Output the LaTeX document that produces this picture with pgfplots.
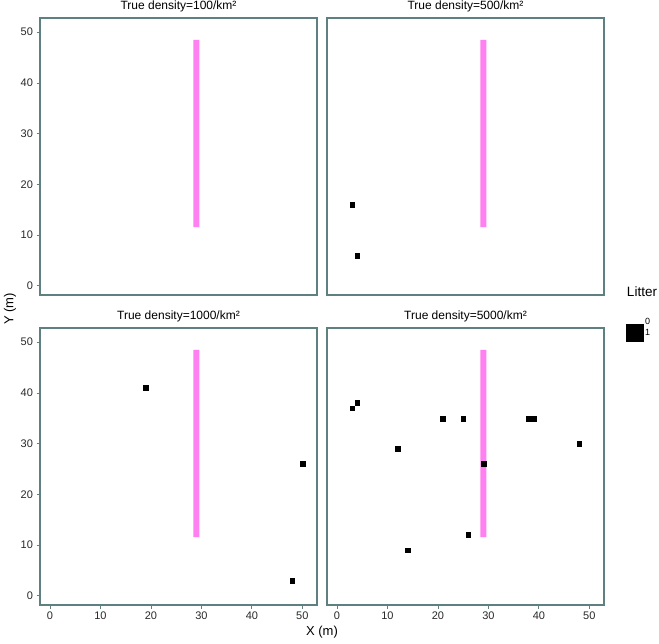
\documentclass[border=0pt]{standalone}
\usepackage{fontspec}
\setmainfont{Liberation Sans}
\usepackage{pgfplots}
\pgfplotsset{compat=1.18}
\definecolor{frame}{RGB}{95,128,128}
\definecolor{barpink}{RGB}{255,128,240}
\definecolor{ticktxt}{RGB}{40,40,40}
\pgfplotsset{
  panel/.style={
    scale only axis, width=277pt, height=277pt,
    xmin=-1.98, xmax=52.9, ymin=-1.8, ymax=52.8,
    axis line style={frame, line width=1.3pt},
    xtick={0,10,...,50}, ytick={0,10,...,50},
    xtick pos=bottom, ytick pos=left,
    tick align=outside, major tick length=3.5pt,
    every tick/.style={frame, line width=0.8pt},
    tick label style={font=\fontsize{11}{13}\selectfont, text=ticktxt},
    /pgf/number format/assume math mode=true,
    clip=false,
  },
  noxt/.style={xticklabels={}, xtick=\empty},
  noyt/.style={yticklabels={}, ytick=\empty},
  bar/.style={fill=barpink, draw=none},
  pts/.style={only marks, mark=square*, mark size=2.4pt, black},
}
\tikzset{ptitle/.style={font=\fontsize{12}{14}\selectfont, anchor=base, inner sep=0pt, yshift=8.5pt}}
\begin{document}
\begin{tikzpicture}
\path[use as bounding box] (0pt,0pt) rectangle (659pt,-643pt);
% top left
\begin{axis}[panel, noxt, at={(40pt,-18pt)}, anchor=north west]
\addplot[bar] coordinates {(28.4,11.6) (29.6,11.6) (29.6,48.5) (28.4,48.5) (28.4,11.6)};
\node[ptitle] at (rel axis cs:0.5,1) {True density=100/km²};
\end{axis}
% top right
\begin{axis}[panel, noxt, noyt, at={(327pt,-18pt)}, anchor=north west]
\addplot[bar] coordinates {(28.4,11.6) (29.6,11.6) (29.6,48.5) (28.4,48.5) (28.4,11.6)};
\addplot[pts] coordinates {(3,16) (4,6)};
\node[ptitle] at (rel axis cs:0.5,1) {True density=500/km²};
\end{axis}
% bottom left
\begin{axis}[panel, at={(40pt,-328pt)}, anchor=north west]
\addplot[bar] coordinates {(28.4,11.6) (29.6,11.6) (29.6,48.5) (28.4,48.5) (28.4,11.6)};
\addplot[pts] coordinates {(19,41) (50,26) (48,3)};
\node[ptitle] at (rel axis cs:0.5,1) {True density=1000/km²};
\end{axis}
% bottom right
\begin{axis}[panel, noyt, at={(327pt,-328pt)}, anchor=north west,
  legend style={at={(1,1)}, anchor=north west, xshift=22pt, yshift=12pt, draw=none, fill=none,
    font=\fontsize{9}{11}\selectfont, row sep=-3.5pt, inner sep=0pt},
  legend cell align=left]
\addplot[bar, forget plot] coordinates {(28.4,11.6) (29.6,11.6) (29.6,48.5) (28.4,48.5) (28.4,11.6)};
\addplot[pts, forget plot] coordinates {(3,37) (4,38) (12,29) (21,35) (25,35) (38,35) (39,35) (48,30) (29,26) (26,12) (14,9)};
\node[ptitle] at (rel axis cs:0.5,1) {True density=5000/km²};
\addlegendimage{only marks, mark=square*, mark size=0pt, white}
\addlegendentry{0}
\addlegendimage{only marks, mark=square*, mark size=8.5pt, black}
\addlegendentry{1}
\end{axis}
\node[font=\fontsize{13.5}{15}\selectfont] at (642pt,-292pt) {Litter};
\node[rotate=90, font=\fontsize{13}{15}\selectfont] at (10pt,-309pt) {Y (m)};
\node[font=\fontsize{13}{15}\selectfont] at (322pt,-632pt) {X (m)};
\end{tikzpicture}
\end{document}
